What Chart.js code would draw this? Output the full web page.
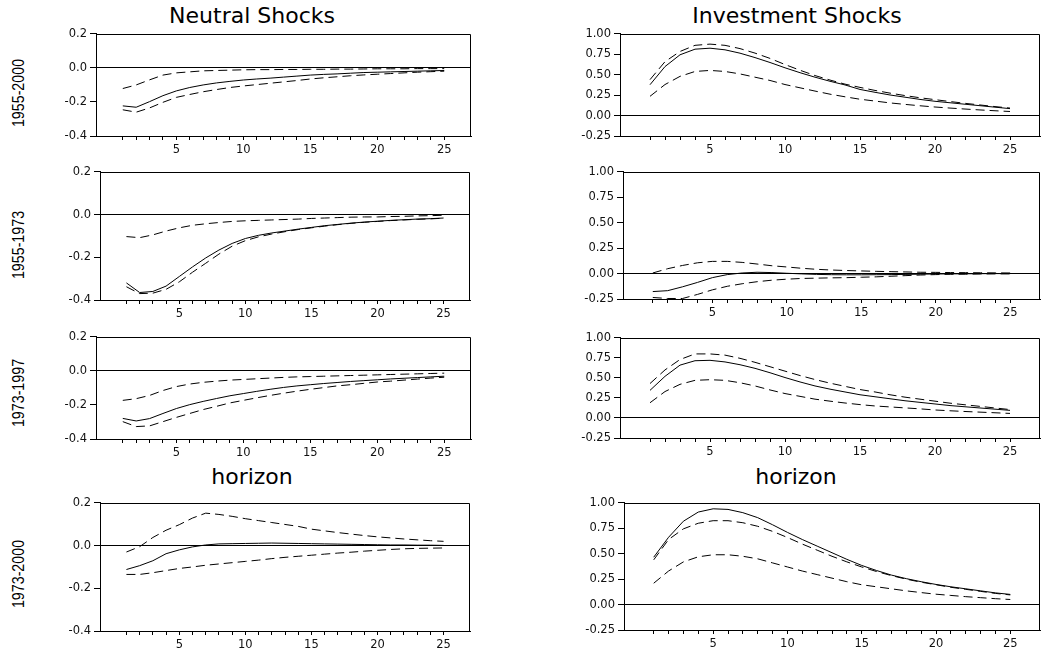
<!DOCTYPE html>
<html>
<head>
<meta charset="utf-8">
<title>Neutral and Investment Shocks</title>
<script src="https://cdn.jsdelivr.net/npm/chart.js@4.4.0/dist/chart.umd.min.js"></script>
<style>
  body { margin: 0; background: #fff; }
  #page { position: relative; width: 1045px; height: 656px; overflow: hidden; font-family: "DejaVu Sans", sans-serif; color: #000; }
  .panel { position: absolute; }
  .txt { position: absolute; white-space: nowrap; line-height: 1; transform: translate(-50%, -50%); }
  .head { font-size: 22px; }
  .row { font-family: "Liberation Sans", Arial, sans-serif; font-size: 16px; transform: translate(-50%, -50%) rotate(-90deg) scaleX(0.89); }
</style>
</head>
<body>
<div id="page">
  <div class="txt head" style="left:252px; top:16px">Neutral Shocks</div>
  <div class="txt head" style="left:797px; top:16px">Investment Shocks</div>
  <div class="txt head" style="left:252px; top:477px">horizon</div>
  <div class="txt head" style="left:796px; top:477px">horizon</div>
  <div class="txt row" style="left:19px; top:93px">1955-2000</div>
  <div class="txt row" style="left:19px; top:245px">1955-1973</div>
  <div class="txt row" style="left:19px; top:393px">1973-1997</div>
  <div class="txt row" style="left:19px; top:574px">1973-2000</div>
</div>
<script>
// horizon (quarters)
const horizon = [1,2,3,4,5,6,7,8,9,10,11,12,13,14,15,16,17,18,19,20,21,22,23,24,25]

// neutral shocks
const neutral5500 = [-0.223,-0.231,-0.198,-0.163,-0.135,-0.115,-0.100,-0.088,-0.079,-0.071,-0.065,-0.060,-0.054,-0.048,-0.042,-0.038,-0.035,-0.031,-0.027,-0.025,-0.023,-0.021,-0.019,-0.017,-0.015]
const neutral5500Hi = [-0.121,-0.100,-0.070,-0.042,-0.029,-0.023,-0.017,-0.015,-0.013,-0.011,-0.010,-0.010,-0.009,-0.009,-0.008,-0.008,-0.007,-0.007,-0.006,-0.005,-0.005,-0.005,-0.004,-0.004,-0.004]
const neutral5500Lo = [-0.246,-0.260,-0.235,-0.202,-0.173,-0.156,-0.140,-0.127,-0.115,-0.106,-0.098,-0.090,-0.082,-0.074,-0.065,-0.058,-0.052,-0.046,-0.041,-0.037,-0.033,-0.029,-0.025,-0.022,-0.019]

const neutral5573 = [-0.320,-0.365,-0.360,-0.335,-0.290,-0.245,-0.203,-0.166,-0.135,-0.112,-0.097,-0.086,-0.077,-0.068,-0.060,-0.052,-0.046,-0.040,-0.035,-0.031,-0.027,-0.024,-0.021,-0.019,-0.016]
const neutral5573Hi = [-0.103,-0.108,-0.095,-0.077,-0.062,-0.050,-0.043,-0.037,-0.032,-0.029,-0.027,-0.025,-0.023,-0.021,-0.018,-0.016,-0.014,-0.012,-0.011,-0.011,-0.009,-0.008,-0.006,-0.005,-0.003]
const neutral5573Lo = [-0.338,-0.370,-0.368,-0.350,-0.315,-0.270,-0.228,-0.185,-0.148,-0.122,-0.104,-0.091,-0.080,-0.070,-0.062,-0.054,-0.047,-0.041,-0.036,-0.032,-0.028,-0.025,-0.022,-0.020,-0.017]

const neutral7397 = [-0.279,-0.294,-0.280,-0.250,-0.221,-0.198,-0.179,-0.162,-0.146,-0.133,-0.120,-0.108,-0.097,-0.088,-0.081,-0.074,-0.068,-0.062,-0.057,-0.052,-0.047,-0.043,-0.039,-0.035,-0.031]
const neutral7397Hi = [-0.173,-0.163,-0.144,-0.115,-0.092,-0.077,-0.067,-0.060,-0.054,-0.050,-0.046,-0.042,-0.038,-0.035,-0.033,-0.031,-0.029,-0.027,-0.025,-0.023,-0.021,-0.019,-0.017,-0.015,-0.013]
const neutral7397Lo = [-0.298,-0.327,-0.323,-0.298,-0.273,-0.250,-0.227,-0.208,-0.188,-0.173,-0.158,-0.144,-0.131,-0.119,-0.108,-0.098,-0.088,-0.081,-0.073,-0.065,-0.060,-0.054,-0.048,-0.042,-0.037]

const neutral7300 = [-0.112,-0.094,-0.071,-0.038,-0.020,-0.006,0.003,0.008,0.009,0.010,0.011,0.012,0.011,0.010,0.009,0.008,0.007,0.006,0.005,0.004,0.003,0.003,0.002,0.002,0.001]
const neutral7300Hi = [-0.030,-0.005,0.038,0.072,0.098,0.129,0.152,0.146,0.137,0.126,0.117,0.108,0.099,0.090,0.077,0.069,0.061,0.054,0.047,0.041,0.036,0.031,0.027,0.023,0.020]
const neutral7300Lo = [-0.135,-0.135,-0.127,-0.117,-0.107,-0.100,-0.092,-0.086,-0.080,-0.074,-0.068,-0.061,-0.055,-0.050,-0.045,-0.040,-0.035,-0.031,-0.026,-0.022,-0.018,-0.015,-0.013,-0.012,-0.011]

// investment shocks
const invest5500 = [0.378,0.600,0.744,0.813,0.825,0.805,0.764,0.710,0.650,0.585,0.525,0.470,0.420,0.375,0.320,0.285,0.252,0.225,0.198,0.175,0.157,0.139,0.121,0.103,0.085]
const invest5500Hi = [0.440,0.660,0.785,0.860,0.875,0.860,0.820,0.765,0.700,0.625,0.555,0.490,0.435,0.385,0.345,0.308,0.275,0.245,0.218,0.195,0.172,0.150,0.130,0.110,0.092]
const invest5500Lo = [0.236,0.380,0.480,0.540,0.553,0.540,0.510,0.470,0.430,0.380,0.340,0.300,0.262,0.230,0.200,0.178,0.155,0.137,0.120,0.105,0.092,0.080,0.069,0.059,0.050]

const invest5573 = [-0.177,-0.168,-0.130,-0.087,-0.040,-0.010,0.006,0.013,0.010,0.003,-0.003,-0.008,-0.011,-0.012,-0.012,-0.011,-0.010,-0.008,-0.006,-0.004,-0.003,-0.002,-0.001,0.000,0.000]
const invest5573Hi = [0.006,0.048,0.080,0.106,0.120,0.120,0.110,0.094,0.077,0.065,0.052,0.042,0.035,0.030,0.026,0.022,0.019,0.016,0.013,0.012,0.010,0.009,0.008,0.007,0.006]
const invest5573Lo = [-0.235,-0.245,-0.245,-0.205,-0.160,-0.125,-0.100,-0.080,-0.065,-0.055,-0.048,-0.045,-0.042,-0.040,-0.036,-0.032,-0.026,-0.020,-0.014,-0.010,-0.007,-0.006,-0.004,-0.003,-0.003]

const invest7397 = [0.345,0.520,0.660,0.715,0.720,0.700,0.665,0.620,0.565,0.505,0.450,0.400,0.360,0.325,0.290,0.265,0.240,0.215,0.195,0.175,0.155,0.140,0.125,0.110,0.095]
const invest7397Hi = [0.430,0.600,0.730,0.800,0.800,0.785,0.745,0.695,0.640,0.585,0.530,0.480,0.435,0.395,0.355,0.325,0.290,0.260,0.235,0.210,0.185,0.165,0.145,0.125,0.105]
const invest7397Lo = [0.190,0.330,0.420,0.470,0.478,0.470,0.440,0.400,0.350,0.305,0.270,0.235,0.210,0.187,0.167,0.150,0.138,0.126,0.114,0.100,0.090,0.081,0.073,0.065,0.057]

const invest7300 = [0.466,0.662,0.820,0.910,0.942,0.936,0.904,0.855,0.785,0.710,0.640,0.575,0.510,0.445,0.385,0.335,0.290,0.255,0.225,0.198,0.175,0.155,0.135,0.115,0.100]
const invest7300Hi = [0.440,0.640,0.745,0.800,0.825,0.825,0.805,0.770,0.720,0.660,0.595,0.535,0.475,0.420,0.370,0.325,0.285,0.250,0.220,0.195,0.170,0.150,0.130,0.110,0.095]
const invest7300Lo = [0.210,0.330,0.420,0.470,0.490,0.490,0.475,0.450,0.410,0.370,0.330,0.295,0.260,0.225,0.195,0.175,0.155,0.135,0.118,0.102,0.090,0.078,0.068,0.058,0.050]

const neutralTicks = { min: -0.4, max: 0.2, step: 0.2, digits: 1 }
const investTicks = { min: -0.25, max: 1.0, step: 0.25, digits: 2 }

const Y_AXIS_W = 70
const PAD_TOP = 8
const PAD_RIGHT = 4
const X_AXIS_H = 26
const tickFont = { family: "DejaVu Sans", size: 11.5 }

// draws the top and right sides of the plot box
const frame = {
    id: "frame",
    afterDraw(chart) {
        const { ctx, chartArea: a } = chart
        ctx.save()
        ctx.strokeStyle = "#000"
        ctx.lineWidth = 1
        ctx.beginPath()
        ctx.moveTo(Math.round(a.left) + 0.5, Math.round(a.top) + 0.5)
        ctx.lineTo(Math.round(a.right) - 0.5, Math.round(a.top) + 0.5)
        ctx.lineTo(Math.round(a.right) - 0.5, Math.round(a.bottom) + 0.5)
        ctx.stroke()
        ctx.restore()
    }
}

function toPoints(values){
    return values.map((v, i) => ({ x: horizon[i], y: v }))
}

function makePanel(box, range, mid, hi, lo){
    const $div = document.createElement("div")
    $div.className = "panel"
    const w = box.r - box.l + Y_AXIS_W + PAD_RIGHT
    const h = box.b - box.t + PAD_TOP + X_AXIS_H
    $div.style.left = (box.l - Y_AXIS_W) + "px"
    $div.style.top = (box.t - PAD_TOP) + "px"
    const $canvas = document.createElement("canvas")
    $canvas.width = w
    $canvas.height = h
    $div.appendChild($canvas)
    document.getElementById("page").appendChild($div)

    const dashed = { borderColor: "#000", borderWidth: 1, borderDash: [9, 5], pointRadius: 0, tension: 0, fill: false }
    new Chart($canvas, {
        type: "line",
        data: {
            datasets: [
                { data: toPoints(mid), borderColor: "#000", borderWidth: 1, pointRadius: 0, tension: 0, fill: false },
                Object.assign({ data: toPoints(hi) }, dashed),
                Object.assign({ data: toPoints(lo) }, dashed)
            ]
        },
        options: {
            responsive: false,
            animation: false,
            layout: { padding: { left: 0, top: PAD_TOP, right: PAD_RIGHT, bottom: 0 } },
            plugins: { legend: { display: false }, tooltip: { enabled: false } },
            scales: {
                x: {
                    type: "linear",
                    min: -1,
                    max: 27,
                    afterBuildTicks: s => { s.ticks = horizon.map(v => ({ value: v })) },
                    afterFit: s => { s.height = X_AXIS_H },
                    ticks: {
                        autoSkip: false, maxRotation: 0, minRotation: 0, padding: 3,
                        font: tickFont, color: "#111",
                        callback: v => (v % 5 === 0 ? String(v) : "")
                    },
                    grid: { drawOnChartArea: false, tickLength: 4, color: "#000", tickColor: "#000" },
                    border: { color: "#000", width: 1 }
                },
                y: {
                    min: range.min,
                    max: range.max,
                    afterFit: s => { s.width = Y_AXIS_W },
                    ticks: {
                        stepSize: range.step, padding: 3, font: tickFont, color: "#111",
                        callback: v => (Math.abs(v) < 1e-9 ? 0 : v).toFixed(range.digits)
                    },
                    grid: {
                        tickLength: 6,
                        tickColor: "#000",
                        color: c => (c.tick && Math.abs(c.tick.value) < 1e-9 ? "#000" : "rgba(0,0,0,0)")
                    },
                    border: { color: "#000", width: 1 }
                }
            }
        },
        plugins: [frame]
    })
}

makePanel({ l: 96, t: 32, r: 471, b: 136 }, neutralTicks, neutral5500, neutral5500Hi, neutral5500Lo)
makePanel({ l: 620, t: 32, r: 1040, b: 136 }, investTicks, invest5500, invest5500Hi, invest5500Lo)
makePanel({ l: 100, t: 170, r: 470, b: 300 }, neutralTicks, neutral5573, neutral5573Hi, neutral5573Lo)
makePanel({ l: 623, t: 170, r: 1040, b: 299 }, investTicks, invest5573, invest5573Hi, invest5573Lo)
makePanel({ l: 96, t: 335, r: 471, b: 439 }, neutralTicks, neutral7397, neutral7397Hi, neutral7397Lo)
makePanel({ l: 620, t: 336, r: 1040, b: 438 }, investTicks, invest7397, invest7397Hi, invest7397Lo)
makePanel({ l: 100, t: 501, r: 470, b: 631 }, neutralTicks, neutral7300, neutral7300Hi, neutral7300Lo)
makePanel({ l: 624, t: 501, r: 1040, b: 630 }, investTicks, invest7300, invest7300Hi, invest7300Lo)
</script>
</body>
</html>
